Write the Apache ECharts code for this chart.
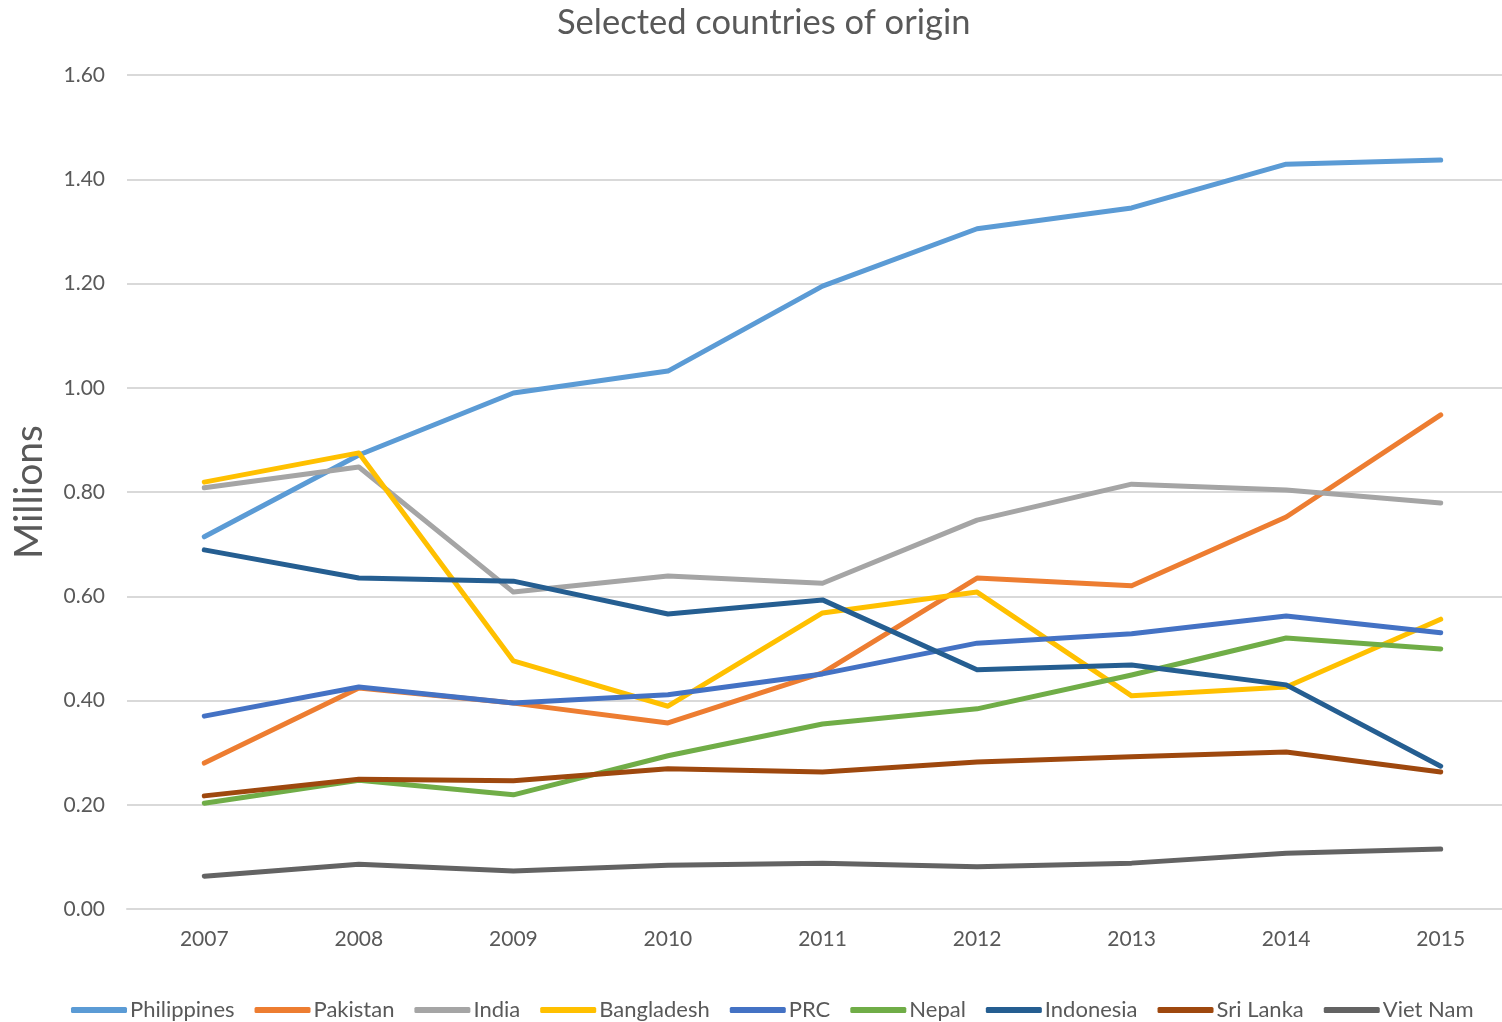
<!DOCTYPE html>
<html>
<head>
<meta charset="utf-8">
<script src="https://cdn.jsdelivr.net/npm/echarts@6/dist/echarts.min.js"></script>
<style>
  html, body { margin: 0; padding: 0; background: #fff; }
  #chart { width: 1502px; height: 1022px; }
</style>
</head>
<body>
<div id="chart"></div>
<script>
// Migrant workers by country of origin, millions
const years = ['2007', '2008', '2009', '2010', '2011', '2012', '2013', '2014', '2015'];
const philippines = [0.714, 0.871, 0.990, 1.032, 1.195, 1.305, 1.345, 1.429, 1.437];
const pakistan    = [0.280, 0.424, 0.395, 0.357, 0.453, 0.635, 0.620, 0.752, 0.948];
const india       = [0.808, 0.848, 0.608, 0.639, 0.625, 0.746, 0.815, 0.804, 0.779];
const bangladesh  = [0.819, 0.875, 0.476, 0.389, 0.568, 0.608, 0.409, 0.426, 0.556];
const prc         = [0.370, 0.426, 0.395, 0.411, 0.451, 0.510, 0.528, 0.562, 0.530];
const nepal       = [0.203, 0.247, 0.219, 0.294, 0.355, 0.384, 0.449, 0.520, 0.499];
const indonesia   = [0.689, 0.635, 0.629, 0.566, 0.593, 0.459, 0.468, 0.430, 0.274];
const sriLanka    = [0.217, 0.249, 0.246, 0.269, 0.263, 0.282, 0.292, 0.301, 0.263];
const vietNam     = [0.063, 0.086, 0.073, 0.084, 0.088, 0.081, 0.088, 0.107, 0.115];

const seriesDefs = [
  ['Philippines', philippines, '#5B9BD5'],
  ['Pakistan', pakistan, '#ED7D31'],
  ['India', india, '#A5A5A5'],
  ['Bangladesh', bangladesh, '#FFC000'],
  ['PRC', prc, '#4472C4'],
  ['Nepal', nepal, '#70AD47'],
  ['Indonesia', indonesia, '#255E91'],
  ['Sri Lanka', sriLanka, '#9E480E'],
  ['Viet Nam', vietNam, '#636363']
];

const FONT = 'Lato, "Open Sans", sans-serif';
const TEXT = '#595959';

const chart = echarts.init(document.getElementById('chart'), null, { renderer: 'canvas' });
chart.setOption({
  animation: false,
  backgroundColor: '#ffffff',
  title: {
    text: 'Selected countries of origin',
    left: 552,
    top: 0,
    textStyle: { fontFamily: FONT, fontSize: 34.5, fontWeight: 'normal', color: TEXT }
  },
  legend: {
    top: 994,
    left: 66,
    itemWidth: 56,
    itemHeight: 6,
    itemGap: 20,
    icon: 'roundRect',
    textStyle: { fontFamily: FONT, fontSize: 22, color: TEXT, padding: [0, 0, 0, -2] },
    data: seriesDefs.map(d => d[0])
  },
  // plot area runs past the right edge of the canvas
  grid: { left: 127, width: 1391, top: 75, bottom: 113, containLabel: false, outerBoundsMode: 'none' },
  xAxis: {
    type: 'category',
    data: years,
    boundaryGap: true,
    axisLine: { show: true, lineStyle: { color: '#D9D9D9', width: 2 } },
    axisTick: { show: false },
    axisLabel: { fontFamily: FONT, fontSize: 21, color: TEXT, margin: 20 }
  },
  yAxis: {
    type: 'value',
    min: 0,
    max: 1.6,
    interval: 0.2,
    name: 'Millions',
    nameLocation: 'middle',
    nameGap: 78,
    nameTextStyle: { fontFamily: FONT, fontSize: 39, color: TEXT },
    axisLine: { show: false },
    axisTick: { show: false },
    splitLine: { lineStyle: { color: '#D9D9D9', width: 2 } },
    axisLabel: {
      fontFamily: FONT, fontSize: 21, color: TEXT, margin: 22,
      formatter: v => v.toFixed(2)
    }
  },
  series: seriesDefs.map(([name, data, color]) => ({
    name,
    type: 'line',
    data,
    color,
    symbol: 'none',
    lineStyle: { width: 5, color, cap: 'round', join: 'round' }
  }))
});
</script>
</body>
</html>
